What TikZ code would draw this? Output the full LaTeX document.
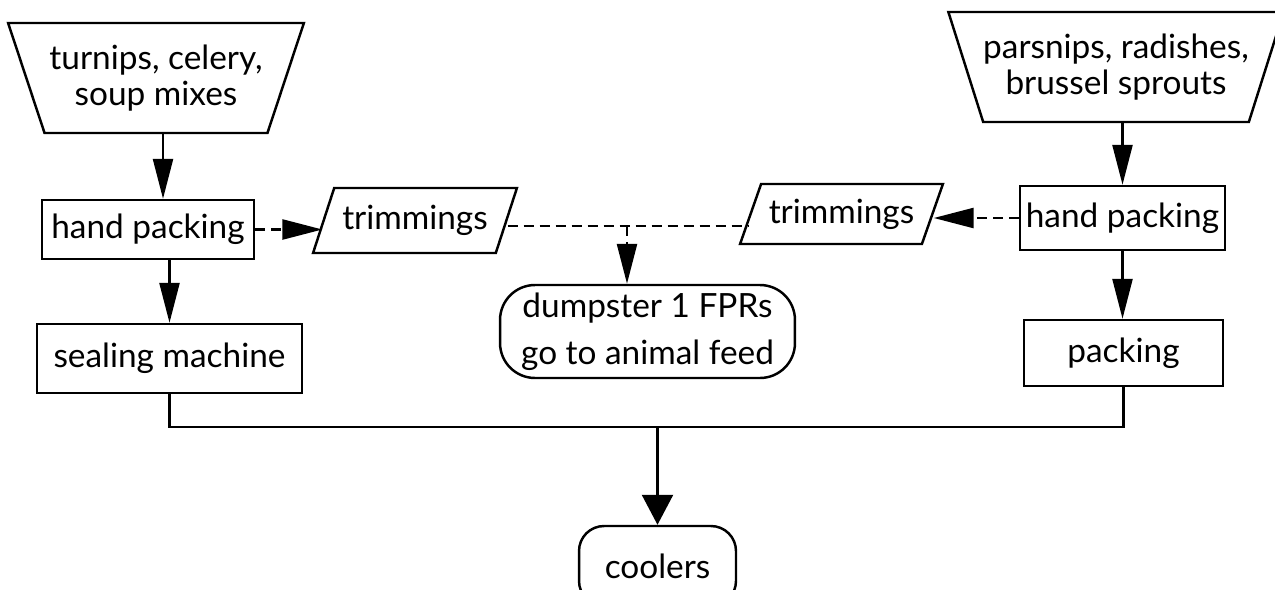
\documentclass[tikz,border=0pt]{standalone}
\usepackage{fontspec}
\setmainfont{Lato}
\usetikzlibrary{shapes.geometric,arrows.meta}

\begin{document}
\begin{tikzpicture}[x=0.02cm, y=-0.02cm, line width=1.4pt,
    every node/.style={font=\fontsize{19}{20}\selectfont},
    box/.style={draw, rectangle, inner sep=0pt},
    inbox/.style={draw, trapezium, shape border rotate=180, trapezium angle=62,
        trapezium stretches=true, inner sep=0pt, align=center},
    trimbox/.style={draw, trapezium, trapezium left angle=58, trapezium right angle=122,
        trapezium stretches=true, inner sep=0pt},
    endbox/.style={draw, rectangle, rounded corners=#1, inner sep=0pt, align=center},
    trimline/.style={dash pattern=on 0.2cm off 0.12cm},
    flow/.style={-{Triangle[length=0.8cm, width=0.4cm]}},
    bigflow/.style={-{Triangle[length=0.6cm, width=0.62cm]}},
    waste/.style={flow, trimline}]
    \useasboundingbox (0,0) rectangle (1275,589);
    % Incoming produce
    \node[inbox, minimum width=5.92cm, minimum height=2.2cm] (srcL) at (156,78)
        {turnips, celery,\\soup mixes};
    \node[inbox, minimum width=6.32cm, minimum height=2.2cm] (srcR) at (1116,67)
        {parsnips, radishes,\\brussel sprouts};
    % Processing steps
    \node[box, minimum width=4.24cm, minimum height=1.18cm] (hpL) at (148,229.5) {hand packing};
    \node[box, minimum width=5.3cm, minimum height=1.38cm] (seal) at (169.5,358.5) {sealing machine};
    \node[box, minimum width=4.1cm, minimum height=1.28cm] (hpR) at (1122.5,218) {hand packing};
    \node[box, minimum width=3.98cm, minimum height=1.32cm] (pack) at (1123.5,353) {packing};
    % Trimmings
    \node[trimbox, minimum width=4.08cm, minimum height=1.3cm] (trimL) at (415,220.5) {trimmings};
    \node[trimbox, minimum width=4.06cm, minimum height=1.2cm] (trimR) at (841.5,214) {trimmings};
    % End points
    \node[endbox=0.7cm, minimum width=5.9cm, minimum height=1.86cm,
        font=\fontsize{19}{27}\selectfont] (dump) at (647.5,331.5)
        {dumpster 1 FPRs\\go to animal feed};
    \node[endbox=0.5cm, minimum width=3.14cm, minimum height=1.6cm] (cool) at (657.5,566) {coolers};
    \coordinate (cut) at (627,226);
    \coordinate (mrg) at (657.5,427);
    % Product flow
    \draw[flow] ([xshift=0.14cm]srcL.south) -- ([xshift=0.14cm]srcL.south |- hpL.north);
    \draw[flow] (seal.north |- hpL.south) -- (seal.north);
    \draw[flow] (hpR.north |- srcR.south) -- (hpR.north);
    \draw[flow] (hpR.south) -- (hpR.south |- pack.north);
    \draw (seal.south) |- (mrg) -| (pack.south);
    \draw[bigflow] (mrg) -- (cool.north);
    % Trimmings flow
    \draw[waste] (hpL.east) -- (hpL.east -| trimL.left side);
    \draw[waste] (hpR.west) -- (hpR.west -| trimR.right side);
    \draw[trimline] (cut -| trimL.right side) -- (cut -| trimR.left side);
    \draw[waste] (cut) -- (cut |- dump.north);
\end{tikzpicture}
\end{document}
